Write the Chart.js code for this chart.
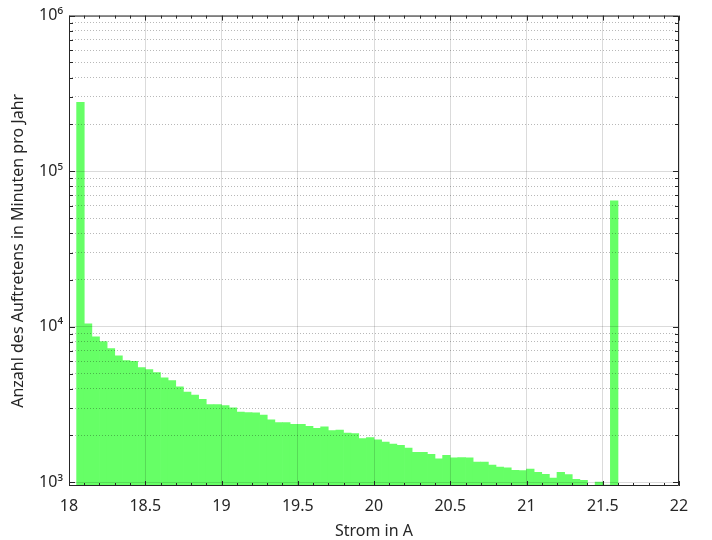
<!DOCTYPE html>
<html>
<head>
<meta charset="utf-8">
<script src="https://cdn.jsdelivr.net/npm/chart.js@4"></script>
<style>
  html, body { margin: 0; padding: 0; background: #fff; }
  #wrap { width: 712px; height: 540px; }
</style>
</head>
<body>
<div id="wrap"><canvas id="histChart"></canvas></div>
<script>
// Histogram bins (left edge in A), bin width 0.05 A
const binWidth = 0.05;
const binStarts = [
  18.05, 18.10, 18.15, 18.20, 18.25, 18.30, 18.35, 18.40, 18.45, 18.50,
  18.55, 18.60, 18.65, 18.70, 18.75, 18.80, 18.85, 18.90, 18.95, 19.00,
  19.05, 19.10, 19.15, 19.20, 19.25, 19.30, 19.35, 19.40, 19.45, 19.50,
  19.55, 19.60, 19.65, 19.70, 19.75, 19.80, 19.85, 19.90, 19.95, 20.00,
  20.05, 20.10, 20.15, 20.20, 20.25, 20.30, 20.35, 20.40, 20.45, 20.50,
  20.55, 20.60, 20.65, 20.70, 20.75, 20.80, 20.85, 20.90, 20.95, 21.00,
  21.05, 21.10, 21.15, 21.20, 21.25, 21.30, 21.35, 21.40, 21.45, 21.50,
  21.55
];
// Minutes per year in each bin (null = empty bin)
const minutesPerYear = [
  277000, 10450, 8600, 8030, 7245, 6510, 6050, 5985, 5460, 5300,
  5075, 4695, 4515, 4115, 3805, 3640, 3420, 3160, 3160, 3116,
  3010, 2826, 2810, 2800, 2705, 2525, 2417, 2417, 2360, 2360,
  2290, 2226, 2270, 2150, 2165, 2070, 2055, 1912, 1940, 1877,
  1814, 1762, 1727, 1661, 1559, 1559, 1514, 1416, 1492, 1435,
  1443, 1435, 1347, 1347, 1289, 1252, 1237, 1193, 1188, 1215,
  1160, 1125, 1065, 1160, 1120, 1045, 1030, null, 1005, 960,
  64500
];

// Axis ticks
const xTicks = [18, 18.5, 19, 19.5, 20, 20.5, 21, 21.5, 22];
const yTicks = [
  1000, 2000, 3000, 4000, 5000, 6000, 7000, 8000, 9000,
  10000, 20000, 30000, 40000, 50000, 60000, 70000, 80000, 90000,
  100000, 200000, 300000, 400000, 500000, 600000, 700000, 800000, 900000,
  1000000
];
const supers = { 3: "\u00B3", 4: "\u2074", 5: "\u2075", 6: "\u2076" };

const textColor = "#262626";
const fontFamily = "'Noto Sans', 'Open Sans', sans-serif";

const isDecade = v => Math.abs(Math.log10(v) - Math.round(Math.log10(v))) < 1e-9;

// Box frame + inward tick marks, like the original plot
const frameTicks = {
  id: "frameTicks",
  afterDraw(chart) {
    const { ctx, chartArea: a, scales: { x, y } } = chart;
    ctx.save();
    ctx.strokeStyle = textColor;
    ctx.lineWidth = 1;
    ctx.beginPath();
    // all four edges of the box
    ctx.rect(a.left + 0.5, a.top + 0.5, a.right - a.left - 1, a.bottom - a.top - 1);
    // x ticks every 0.1
    for (let i = 0; i <= 40; i++) {
      const v = 18 + i * 0.1;
      const px = Math.round(x.getPixelForValue(v)) + 0.5;
      const len = i % 5 === 0 ? 5 : 3;
      ctx.moveTo(px, a.bottom);
      ctx.lineTo(px, a.bottom - len);
      ctx.moveTo(px, a.top);
      ctx.lineTo(px, a.top + len);
    }
    // y ticks
    yTicks.forEach(v => {
      const py = Math.round(y.getPixelForValue(v)) + 0.5;
      const len = isDecade(v) ? 6 : 4;
      ctx.moveTo(a.left, py);
      ctx.lineTo(a.left + len, py);
      ctx.moveTo(a.right, py);
      ctx.lineTo(a.right - len, py);
    });
    ctx.stroke();
    ctx.restore();
  }
};

const histChart = new Chart(document.getElementById("histChart"), {
  type: "bar",
  data: {
    datasets: [{
      label: "Strom",
      data: binStarts.map((s, i) => ({ x: s + binWidth / 2, y: minutesPerYear[i] })),
      backgroundColor: "#66FF66",
      borderWidth: 0,
      barPercentage: 1,
      categoryPercentage: 1
    }]
  },
  options: {
    responsive: true,
    maintainAspectRatio: false,
    animation: false,
    devicePixelRatio: 1,
    layout: { padding: { top: 10, right: 33, left: 0, bottom: 0 } },
    plugins: {
      legend: { display: false },
      tooltip: { enabled: false }
    },
    scales: {
      x: {
        type: "linear",
        min: 18,
        max: 22,
        offset: false,
        afterBuildTicks: scale => { scale.ticks = xTicks.map(v => ({ value: v })); },
        afterFit: scale => { scale.height = 54; },
        ticks: {
          color: textColor,
          padding: 11,
          maxRotation: 0,
          font: { family: fontFamily, size: 16 },
          callback: v => String(v)
        },
        grid: {
          offset: false,
          drawTicks: false,
          z: 1,
          color: "rgba(0,0,0,0.14)"
        },
        border: { display: false },
        title: {
          display: true,
          text: "Strom in A",
          color: textColor,
          font: { family: fontFamily, size: 16, lineHeight: 1.1 },
          padding: { top: 0, bottom: 0 }
        }
      },
      y: {
        type: "logarithmic",
        min: 947,
        max: 1000000,
        afterBuildTicks: scale => { scale.ticks = yTicks.map(v => ({ value: v })); },
        afterFit: scale => { scale.width = 69; },
        ticks: {
          color: textColor,
          padding: 6,
          autoSkip: false,
          font: { family: fontFamily, size: 16 },
          callback: v => isDecade(v) ? "10" + supers[Math.round(Math.log10(v))] : ""
        },
        grid: {
          drawTicks: false,
          z: 1,
          color: ctx => ctx.tick && isDecade(ctx.tick.value) ? "rgba(0,0,0,0.14)" : "rgba(0,0,0,0.28)"
        },
        border: {
          display: false,
          dash: ctx => ctx.tick && !isDecade(ctx.tick.value) ? [1, 2] : []
        },
        title: {
          display: true,
          text: "Anzahl des Auftretens in Minuten pro Jahr",
          color: textColor,
          font: { family: fontFamily, size: 16 },
          padding: { top: 9, bottom: 0 }
        }
      }
    }
  },
  plugins: [frameTicks]
});
</script>
</body>
</html>
